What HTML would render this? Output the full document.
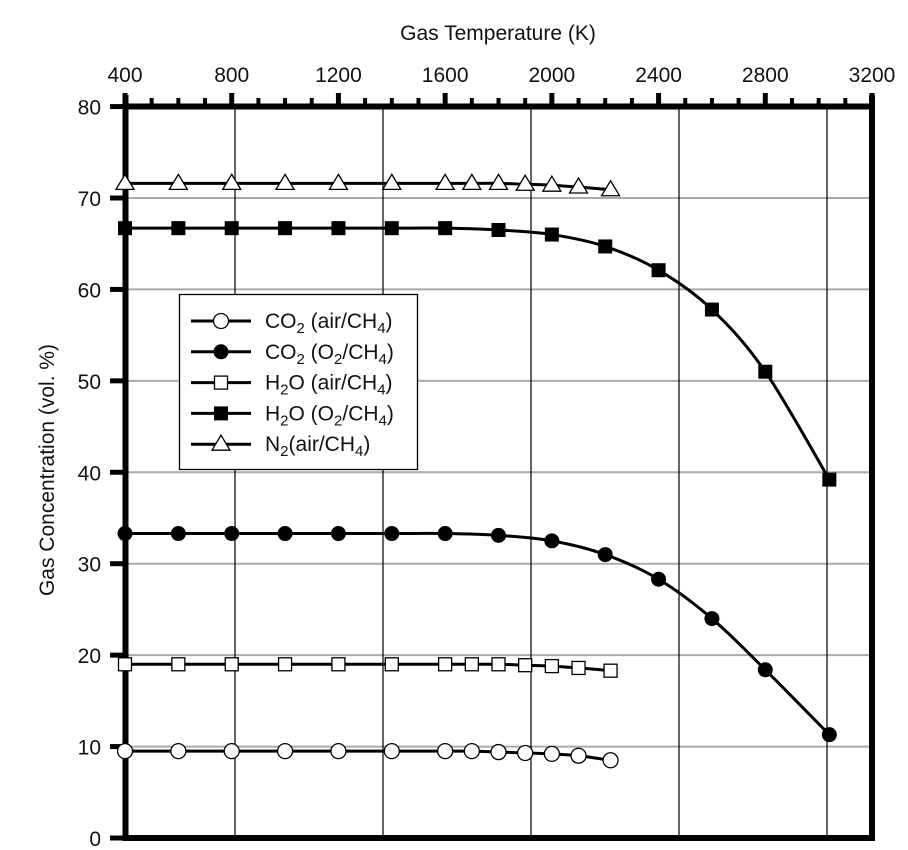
<!DOCTYPE html>
<html><head><style>body{margin:0;background:#fff}svg{display:block}text{font-family:"Liberation Sans",sans-serif;fill:#111}</style></head>
<body>
<svg id="s" width="908" height="850" xmlns="http://www.w3.org/2000/svg"></svg>
<script>
const s=document.getElementById('s');let h='';
const X=t=>125+(t-400)*0.26679, Y=v=>838-v*9.143;
for(let v=10;v<=70;v+=10)h+=`<line x1="125" x2="872" y1="${Y(v)}" y2="${Y(v)}" stroke="#aaa" stroke-width="2"/>`;
for(let i=0;i<5;i++){let x=235+148*i;h+=`<line x1="${x}" x2="${x}" y1="106" y2="838" stroke="#000" stroke-width="1.2"/>`;}
h+=`<rect x="179.5" y="294.5" width="238" height="175" fill="#fff" stroke="#000" stroke-width="1.3"/>`;
h+=`<line x1="125" x2="872" y1="106.5" y2="106.5" stroke="#000" stroke-width="6"/>`;
h+=`<line x1="125" x2="872" y1="838" y2="838" stroke="#000" stroke-width="6"/>`;
h+=`<line x1="125.5" x2="125.5" y1="95" y2="841" stroke="#000" stroke-width="6"/>`;
h+=`<line x1="872" x2="872" y1="95" y2="841" stroke="#000" stroke-width="6"/>`;
for(let t=400;t<=3200;t+=100){let x=X(t);let maj=(t%400==0);h+=`<line x1="${x}" x2="${x}" y1="${maj?93:98}" y2="106" stroke="#000" stroke-width="${maj?5:4}"/>`;if(maj)h+=`<text x="${x}" y="82" font-size="21" text-anchor="middle">${t}</text>`;}
for(let v=0;v<=80;v+=10){let y=Y(v);h+=`<line x1="110" x2="125" y1="${y}" y2="${y}" stroke="#000" stroke-width="5"/><text x="101" y="${y+8}" font-size="21" text-anchor="end">${v}</text>`;}
h+=`<text x="498" y="40" font-size="21" text-anchor="middle">Gas Temperature (K)</text>`;
h+=`<text transform="translate(54,470) rotate(-90)" font-size="21" text-anchor="middle">Gas Concentration (vol. %)</text>`;
function mk(type,x,y){
 if(type=='co')return `<circle cx="${x}" cy="${y}" r="7.5" fill="#fff" stroke="#000" stroke-width="1.3"/>`;
 if(type=='cf')return `<circle cx="${x}" cy="${y}" r="7.5" fill="#000"/>`;
 if(type=='so')return `<rect x="${x-6.5}" y="${y-6.5}" width="13" height="13" fill="#fff" stroke="#000" stroke-width="1.3"/>`;
 if(type=='sf')return `<rect x="${x-7}" y="${y-7}" width="14" height="14" fill="#000"/>`;
 return `<path d="M${x} ${y-9}L${x+9} ${y+6}L${x-9} ${y+6}Z" fill="#fff" stroke="#000" stroke-width="1.3"/>`;
}
function series(pts,type){
 let P=pts.map(p=>[X(p[0]),Y(p[1])]);
 let d=`M${P[0][0]} ${P[0][1]}`;
 for(let i=0;i<P.length-1;i++){let p0=P[Math.max(0,i-1)],p1=P[i],p2=P[i+1],p3=P[Math.min(P.length-1,i+2)];
  d+=`C${p1[0]+(p2[0]-p0[0])/6} ${p1[1]+(p2[1]-p0[1])/6} ${p2[0]-(p3[0]-p1[0])/6} ${p2[1]-(p3[1]-p1[1])/6} ${p2[0]} ${p2[1]}`;}
 h+=`<path d="${d}" fill="none" stroke="#000" stroke-width="3"/>`;
 P.forEach(p=>h+=mk(type,p[0],p[1]));
}
const ta=[400,600,800,1000,1200,1400,1600,1700,1800,1900,2000,2100,2220];
series(ta.map((t,i)=>[t,[71.6,71.6,71.6,71.6,71.6,71.6,71.6,71.6,71.6,71.5,71.4,71.2,70.9][i]]),'tr');
series(ta.map((t,i)=>[t,[19,19,19,19,19,19,19,19,19,18.9,18.8,18.6,18.3][i]]),'so');
series(ta.map((t,i)=>[t,[9.5,9.5,9.5,9.5,9.5,9.5,9.5,9.5,9.4,9.3,9.2,9.0,8.5][i]]),'co');
const tb=[400,600,800,1000,1200,1400,1600,1800,2000,2200,2400,2600,2800,3040];
series(tb.map((t,i)=>[t,[66.7,66.7,66.7,66.7,66.7,66.7,66.7,66.5,66,64.7,62.1,57.8,51,39.2][i]]),'sf');
series(tb.map((t,i)=>[t,[33.3,33.3,33.3,33.3,33.3,33.3,33.3,33.1,32.5,31,28.3,24,18.4,11.3][i]]),'cf');
const sb=(c)=>`<tspan font-size="15" dy="5">${c}</tspan><tspan dy="-5">`;
const L=[['co',`CO${sb(2)} (air/CH</tspan>${sb(4)})</tspan>`],
['cf',`CO${sb(2)} (O</tspan>${sb(2)}/CH</tspan>${sb(4)})</tspan>`],
['so',`H${sb(2)}O (air/CH</tspan>${sb(4)})</tspan>`],
['sf',`H${sb(2)}O (O</tspan>${sb(2)}/CH</tspan>${sb(4)})</tspan>`],
['tr',`N${sb(2)}(air/CH</tspan>${sb(4)})</tspan>`]];
L.forEach((l,i)=>{let y=321+30.8*i;h+=`<line x1="191" x2="251" y1="${y}" y2="${y}" stroke="#000" stroke-width="3"/>`+mk(l[0],221,y)+`<text x="265" y="${y+7}" font-size="21">${l[1]}</text>`;});
s.innerHTML=h;
</script>
</body></html>
